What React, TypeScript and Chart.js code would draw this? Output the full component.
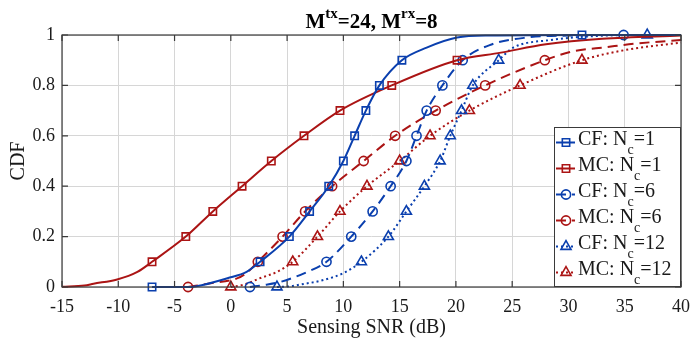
import React, { useEffect, useRef } from "react";
import { Chart, registerables } from "chart.js";

Chart.register(...registerables);

// ---------- data ----------
const X_MIN = -15;
const X_MAX = 40;
const X_STEP = 5;
const Y_MIN = 0;
const Y_MAX = 1;
const Y_STEP = 0.2;

const TITLE_MAIN_1 = "M";
const TITLE_SUP_1 = "tx";
const TITLE_MAIN_2 = "=24, M";
const TITLE_SUP_2 = "rx";
const TITLE_MAIN_3 = "=8";
const X_LABEL = "Sensing SNR (dB)";
const Y_LABEL = "CDF";

// CF: Nc=1 (blue, solid, square)
const cf1CurveX = [-7, -3.5, -2.5, -0.3, 1.4, 2.6, 5.2, 7.0, 8.7, 10.0, 11.0, 12.0, 13.2, 15.2, 17.4, 20.1, 23, 31.2, 40];
const cf1CurveY = [0, 0, 0.008, 0.035, 0.06, 0.1, 0.2, 0.3, 0.4, 0.5, 0.6, 0.7, 0.8, 0.9, 0.95, 0.99, 0.998, 1, 1];
const cf1MarkX = [-7, 2.6, 5.2, 7.0, 8.7, 10.0, 11.0, 12.0, 13.2, 15.2, 31.2];
const cf1MarkY = [0, 0.1, 0.2, 0.3, 0.4, 0.5, 0.6, 0.7, 0.8, 0.9, 1];

// MC: Nc=1 (red, solid, square)
const mc1CurveX = [-15, -13, -12.2, -10.1, -8.3, -7.0, -4.0, -1.6, 1.0, 3.6, 6.5, 9.7, 14.3, 20.1, 24, 28, 33, 40];
const mc1CurveY = [0.001, 0.006, 0.013, 0.03, 0.06, 0.1, 0.2, 0.3, 0.4, 0.5, 0.6, 0.7, 0.8, 0.9, 0.93, 0.963, 0.985, 0.998];
const mc1MarkX = [-7.0, -4.0, -1.6, 1.0, 3.6, 6.5, 9.7, 14.3, 20.1];
const mc1MarkY = [0.1, 0.2, 0.3, 0.4, 0.5, 0.6, 0.7, 0.8, 0.9];

// CF: Nc=6 (blue, dashed, circle)
const cf6CurveX = [1.7, 3.0, 4.4, 6.8, 8.5, 10.7, 12.6, 14.2, 15.6, 16.5, 17.4, 18.8, 20.6, 23.0, 26.3, 30, 34.9, 40];
const cf6CurveY = [0, 0.008, 0.02, 0.06, 0.1, 0.2, 0.3, 0.4, 0.5, 0.6, 0.7, 0.8, 0.9, 0.96, 0.99, 0.998, 1, 1];
const cf6MarkX = [1.7, 8.5, 10.7, 12.6, 14.2, 15.6, 16.5, 17.4, 18.8, 20.6, 34.9];
const cf6MarkY = [0, 0.1, 0.2, 0.3, 0.4, 0.5, 0.6, 0.7, 0.8, 0.9, 1];

// MC: Nc=6 (red, dashed, circle)
const mc6CurveX = [-3.8, -1.8, 0.6, 1.4, 2.4, 4.6, 6.6, 9.0, 11.8, 14.6, 18.2, 22.6, 27.9, 30.4, 33.4, 36, 40];
const mc6CurveY = [0, 0.015, 0.035, 0.056, 0.1, 0.2, 0.3, 0.4, 0.5, 0.6, 0.7, 0.8, 0.9, 0.935, 0.952, 0.966, 0.98];
const mc6MarkX = [-3.8, 2.4, 4.6, 6.6, 9.0, 11.8, 14.6, 18.2, 22.6, 27.9];
const mc6MarkY = [0, 0.1, 0.2, 0.3, 0.4, 0.5, 0.6, 0.7, 0.8, 0.9];

// CF: Nc=12 (blue, dotted, triangle)
const cf12CurveX = [4.1, 5.5, 6.2, 8.0, 10.0, 11.6, 14.0, 15.6, 17.2, 18.6, 19.5, 20.5, 21.5, 23.8, 25.1, 28.4, 32, 37, 40];
const cf12CurveY = [0, 0.004, 0.01, 0.025, 0.055, 0.1, 0.2, 0.3, 0.4, 0.5, 0.6, 0.7, 0.8, 0.9, 0.95, 0.98, 0.995, 1, 1];
const cf12MarkX = [4.1, 11.6, 14.0, 15.6, 17.2, 18.6, 19.5, 20.5, 21.5, 23.8, 37.0];
const cf12MarkY = [0, 0.1, 0.2, 0.3, 0.4, 0.5, 0.6, 0.7, 0.8, 0.9, 1];

// MC: Nc=12 (red, dotted, triangle)
const mc12CurveX = [0, 1.2, 2.6, 4.1, 5.5, 7.7, 9.7, 12.1, 15.0, 17.7, 21.2, 25.7, 31.2, 35, 40];
const mc12CurveY = [0, 0.01, 0.035, 0.06, 0.1, 0.2, 0.3, 0.4, 0.5, 0.6, 0.7, 0.8, 0.9, 0.94, 0.97];
const mc12MarkX = [0.0, 5.5, 7.7, 9.7, 12.1, 15.0, 17.7, 21.2, 25.7, 31.2];
const mc12MarkY = [0, 0.1, 0.2, 0.3, 0.4, 0.5, 0.6, 0.7, 0.8, 0.9];

const LEGEND_PREFIX = ["CF: N", "MC: N", "CF: N", "MC: N", "CF: N", "MC: N"];
const LEGEND_SUB = ["c", "c", "c", "c", "c", "c"];
const LEGEND_SUFFIX = ["=1", "=1", "=6", "=6", "=12", "=12"];

// ---------- styles ----------
const FONT = "'Liberation Serif', 'Times New Roman', Times, serif";
const BLUE = "#0a3fae";
const RED = "#ab1414";
const TEXT = "#1a1a1a";
const AXIS = "#3a3a3a";
const GRID = "#d6d6d6";

type Marker = "rect" | "circle" | "triangle";
interface Series {
  color: string;
  dash: number[];
  marker: Marker;
  radius: number;
  cx: number[];
  cy: number[];
  mx: number[];
  my: number[];
}

const DASHED = [10, 6];
const DOTTED = [2, 3];

const SERIES: Series[] = [
  { color: BLUE, dash: [], marker: "rect", radius: 5.2, cx: cf1CurveX, cy: cf1CurveY, mx: cf1MarkX, my: cf1MarkY },
  { color: RED, dash: [], marker: "rect", radius: 5.2, cx: mc1CurveX, cy: mc1CurveY, mx: mc1MarkX, my: mc1MarkY },
  { color: BLUE, dash: DASHED, marker: "circle", radius: 4.6, cx: cf6CurveX, cy: cf6CurveY, mx: cf6MarkX, my: cf6MarkY },
  { color: RED, dash: DASHED, marker: "circle", radius: 4.6, cx: mc6CurveX, cy: mc6CurveY, mx: mc6MarkX, my: mc6MarkY },
  { color: BLUE, dash: DOTTED, marker: "triangle", radius: 5.8, cx: cf12CurveX, cy: cf12CurveY, mx: cf12MarkX, my: cf12MarkY },
  { color: RED, dash: DOTTED, marker: "triangle", radius: 5.8, cx: mc12CurveX, cy: mc12CurveY, mx: mc12MarkX, my: mc12MarkY },
];

function drawMarker(ctx: CanvasRenderingContext2D, m: Marker, x: number, y: number, r: number) {
  ctx.beginPath();
  if (m === "rect") {
    const s = r * Math.SQRT1_2;
    ctx.rect(x - s, y - s, 2 * s, 2 * s);
  } else if (m === "circle") {
    ctx.arc(x, y, r, 0, Math.PI * 2);
  } else {
    let a = 0;
    ctx.moveTo(x + Math.sin(a) * r, y - Math.cos(a) * r);
    a += (2 * Math.PI) / 3;
    ctx.lineTo(x + Math.sin(a) * r, y - Math.cos(a) * r);
    a += (2 * Math.PI) / 3;
    ctx.lineTo(x + Math.sin(a) * r, y - Math.cos(a) * r);
    ctx.closePath();
  }
  ctx.stroke();
}

interface Part { text: string; font: string; dy: number }
function drawParts(ctx: CanvasRenderingContext2D, parts: Part[], x: number, y: number, center: boolean) {
  let total = 0;
  for (const p of parts) {
    ctx.font = p.font;
    total += ctx.measureText(p.text).width;
  }
  let cx = center ? x - total / 2 : x;
  ctx.textAlign = "left";
  ctx.textBaseline = "alphabetic";
  for (const p of parts) {
    ctx.font = p.font;
    ctx.fillText(p.text, cx, y + p.dy);
    cx += ctx.measureText(p.text).width;
  }
}

const decorPlugin = {
  id: "decor",
  afterDraw(chart: any) {
    const ctx: CanvasRenderingContext2D = chart.ctx;
    const { left, right, top, bottom } = chart.chartArea;
    const xs = chart.scales.x;
    const ys = chart.scales.y;
    ctx.save();
    // box
    ctx.strokeStyle = AXIS;
    ctx.lineWidth = 1.2;
    ctx.setLineDash([]);
    ctx.strokeRect(left, top, right - left, bottom - top);
    // inward ticks
    const TL = 6;
    ctx.beginPath();
    for (const t of xs.ticks) {
      const px = xs.getPixelForValue(t.value);
      ctx.moveTo(px, bottom);
      ctx.lineTo(px, bottom - TL);
      ctx.moveTo(px, top);
      ctx.lineTo(px, top + TL);
    }
    for (const t of ys.ticks) {
      const py = ys.getPixelForValue(t.value);
      ctx.moveTo(left, py);
      ctx.lineTo(left + TL, py);
      ctx.moveTo(right, py);
      ctx.lineTo(right - TL, py);
    }
    ctx.stroke();

    // title
    ctx.fillStyle = "#000";
    const big = `bold 21px ${FONT}`;
    const small = `bold 15px ${FONT}`;
    drawParts(
      ctx,
      [
        { text: TITLE_MAIN_1, font: big, dy: 0 },
        { text: TITLE_SUP_1, font: small, dy: -10 },
        { text: TITLE_MAIN_2, font: big, dy: 0 },
        { text: TITLE_SUP_2, font: small, dy: -10 },
        { text: TITLE_MAIN_3, font: big, dy: 0 },
      ],
      (left + right) / 2,
      28,
      true
    );

    // legend
    const lw = 127;
    const lh = 159;
    const lx = right - lw;
    const ly = bottom - lh - 1;
    ctx.fillStyle = "#fff";
    ctx.fillRect(lx, ly, lw, lh);
    ctx.strokeStyle = AXIS;
    ctx.lineWidth = 1;
    ctx.strokeRect(lx + 0.5, ly + 0.5, lw - 1, lh);
    SERIES.forEach((s, i) => {
      const base = ly + 18 + i * 26;
      const lineY = base - 2.5;
      ctx.strokeStyle = s.color;
      ctx.lineWidth = 2;
      ctx.setLineDash(s.dash);
      ctx.beginPath();
      ctx.moveTo(lx + 2, lineY);
      ctx.lineTo(lx + 21, lineY);
      ctx.stroke();
      ctx.setLineDash([]);
      ctx.lineWidth = 1.6;
      drawMarker(ctx, s.marker, lx + 12, lineY, s.radius);
      ctx.fillStyle = TEXT;
      drawParts(
        ctx,
        [
          { text: LEGEND_PREFIX[i], font: `20px ${FONT}`, dy: 0 },
          { text: LEGEND_SUB[i], font: `14px ${FONT}`, dy: 9 },
          { text: LEGEND_SUFFIX[i], font: `20px ${FONT}`, dy: 0 },
        ],
        lx + 24,
        base,
        false
      );
    });
    ctx.restore();
  },
};

export default function App() {
  const ref = useRef<HTMLCanvasElement | null>(null);
  useEffect(() => {
    document.body.style.margin = "0";
    const datasets: any[] = [];
    SERIES.forEach((s) => {
      datasets.push({
        data: s.cx.map((x, i) => ({ x, y: s.cy[i] })),
        showLine: true,
        borderColor: s.color,
        borderWidth: 2,
        borderDash: s.dash,
        pointRadius: 0,
        pointHoverRadius: 0,
        fill: false,
        cubicInterpolationMode: "monotone",
        clip: false,
      });
      datasets.push({
        data: s.mx.map((x, i) => ({ x, y: s.my[i] })),
        showLine: false,
        pointStyle: s.marker,
        pointRadius: s.radius,
        pointHoverRadius: s.radius,
        pointBorderColor: s.color,
        pointBackgroundColor: "rgba(0,0,0,0)",
        pointBorderWidth: 1.6,
        clip: false,
      });
    });
    const chart = new Chart(ref.current as HTMLCanvasElement, {
      type: "scatter",
      data: { datasets },
      options: {
        responsive: false,
        animation: false,
        events: [],
        layout: { padding: { left: 0, right: 10, top: 35, bottom: 0 } },
        plugins: {
          legend: { display: false },
          tooltip: { enabled: false },
          title: { display: false },
        },
        scales: {
          x: {
            type: "linear",
            min: X_MIN,
            max: X_MAX,
            ticks: {
              stepSize: X_STEP,
              color: TEXT,
              font: { family: FONT, size: 18 },
              padding: 9,
              maxRotation: 0,
              autoSkip: false,
            },
            grid: { color: GRID, lineWidth: 1, drawTicks: false },
            border: { display: false },
            title: {
              display: true,
              text: X_LABEL,
              color: TEXT,
              font: { family: FONT, size: 20 },
              padding: { top: 0, bottom: 4 },
            },
            afterFit: (s: any) => {
              s.height = 57;
              s.paddingLeft = 0;
              s.paddingRight = 0;
            },
          },
          y: {
            type: "linear",
            min: Y_MIN,
            max: Y_MAX,
            ticks: {
              stepSize: Y_STEP,
              color: TEXT,
              font: { family: FONT, size: 18 },
              padding: 7,
              callback: (v: any) => String(Math.round(Number(v) * 10) / 10),
            },
            grid: { color: GRID, lineWidth: 1, drawTicks: false },
            border: { display: false },
            title: {
              display: true,
              text: Y_LABEL,
              color: TEXT,
              font: { family: FONT, size: 20 },
              padding: { top: 7, bottom: 0 },
            },
            afterFit: (s: any) => {
              s.width = 62;
              s.paddingTop = 0;
              s.paddingBottom = 0;
            },
          },
        },
      } as any,
      plugins: [decorPlugin],
    });
    return () => chart.destroy();
  }, []);
  return (
    <div style={{ width: 691, height: 344 }}>
      <canvas ref={ref} width={691} height={344} style={{ display: "block" }} />
    </div>
  );
}
